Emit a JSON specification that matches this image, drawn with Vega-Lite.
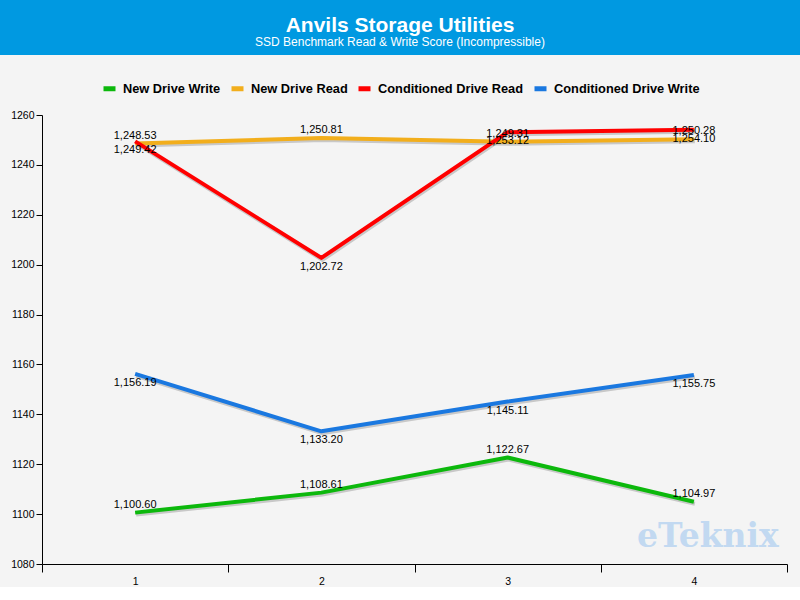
{
  "$schema": "https://vega.github.io/schema/vega-lite/v6.json",
  "background": "#f4f4f4",
  "padding": 0,
  "spacing": 55,
  "config": {
    "view": {"stroke": null},
    "font": "Liberation Sans",
    "axis": {"domainColor": "#000000", "tickColor": "#000000", "labelColor": "#000000", "grid": false, "title": null, "labelFont": "Liberation Sans", "labelFontSize": 10.5}
  },
  "datasets": {
    "scores": [
      {"series": "New Drive Write", "drive": "1", "value": 1100.60},
      {"series": "New Drive Write", "drive": "2", "value": 1108.61},
      {"series": "New Drive Write", "drive": "3", "value": 1122.67},
      {"series": "New Drive Write", "drive": "4", "value": 1104.97},
      {"series": "New Drive Read", "drive": "1", "value": 1248.53},
      {"series": "New Drive Read", "drive": "2", "value": 1250.81},
      {"series": "New Drive Read", "drive": "3", "value": 1249.31},
      {"series": "New Drive Read", "drive": "4", "value": 1250.28},
      {"series": "Conditioned Drive Read", "drive": "1", "value": 1249.42},
      {"series": "Conditioned Drive Read", "drive": "2", "value": 1202.72},
      {"series": "Conditioned Drive Read", "drive": "3", "value": 1253.12},
      {"series": "Conditioned Drive Read", "drive": "4", "value": 1254.10},
      {"series": "Conditioned Drive Write", "drive": "1", "value": 1156.19},
      {"series": "Conditioned Drive Write", "drive": "2", "value": 1133.20},
      {"series": "Conditioned Drive Write", "drive": "3", "value": 1145.11},
      {"series": "Conditioned Drive Write", "drive": "4", "value": 1155.75}
    ]
  },
  "vconcat": [
    {
      "width": 800,
      "height": 55,
      "view": {"fill": "#0099e1", "stroke": null},
      "layer": [
        {
          "data": {"values": [{"t": "Anvils Storage Utilities"}]},
          "mark": {"type": "text", "font": "Liberation Sans", "fontWeight": "bold", "fontSize": 21, "color": "#ffffff", "baseline": "middle", "align": "center", "dy": -1.5},
          "encoding": {"text": {"field": "t"}}
        },
        {
          "data": {"values": [{"t": "SSD Benchmark Read & Write Score (Incompressible)"}]},
          "mark": {"type": "text", "font": "Liberation Sans", "fontSize": 12, "color": "#ffffff", "baseline": "middle", "align": "center", "dy": 14},
          "encoding": {"text": {"field": "t"}}
        }
      ]
    },
    {
      "width": 800,
      "height": 449,
      "data": {"name": "scores"},
      "encoding": {
        "x": {"field": "drive", "type": "nominal", "sort": ["1", "2", "3", "4"],
              "scale": {"type": "band", "range": [42, 787], "paddingInner": 0, "paddingOuter": 0},
              "axis": {"labelAngle": 0, "tickBand": "extent", "tickSize": 8, "labelPadding": 4, "domainColor": "#000000"}},
        "y": {"field": "value", "type": "quantitative",
              "scale": {"domain": [1080, 1260], "zero": false, "nice": false},
              "axis": {"offset": -42, "format": "d", "values": [1080, 1100, 1120, 1140, 1160, 1180, 1200, 1220, 1240, 1260], "tickSize": 6, "labelPadding": 2}}
      },
      "layer": [
        {
          "mark": {"type": "line", "strokeWidth": 4, "color": "#000000", "opacity": 0.18, "xOffset": 1, "yOffset": 2},
          "encoding": {"detail": {"field": "series"}}
        },
        {
          "mark": {"type": "line", "strokeWidth": 4, "strokeJoin": "round"},
          "encoding": {
            "color": {"field": "series", "type": "nominal",
              "scale": {"domain": ["New Drive Write", "New Drive Read", "Conditioned Drive Read", "Conditioned Drive Write"],
                        "range": ["#0cb80c", "#f2ae1c", "#ff0000", "#1a78e0"]},
              "legend": {"title": null, "orient": "none", "direction": "horizontal", "legendX": 101, "legendY": 80,
                         "symbolType": "stroke", "symbolStrokeWidth": 5, "symbolSize": 144,
                         "labelFont": "Liberation Sans", "labelFontWeight": "bold", "labelFontSize": 12.8, "labelColor": "#000000",
                         "labelOffset": 5, "columnPadding": 0}
            }
          }
        },
        {
          "transform": [{"filter": {"field": "series", "oneOf": ["New Drive Write", "New Drive Read"]}}],
          "mark": {"type": "text", "font": "Liberation Sans", "fontSize": 11, "color": "#000000", "baseline": "middle", "dy": -8},
          "encoding": {"text": {"field": "value", "type": "quantitative", "format": ",.2f"}}
        },
        {
          "transform": [{"filter": {"field": "series", "oneOf": ["Conditioned Drive Read", "Conditioned Drive Write"]}}],
          "mark": {"type": "text", "font": "Liberation Sans", "fontSize": 11, "color": "#000000", "baseline": "middle", "dy": 9},
          "encoding": {"text": {"field": "value", "type": "quantitative", "format": ",.2f"}}
        },
        {
          "data": {"values": [{"mark": "eTeknix", "drive": "4", "value": 1091}]},
          "mark": {"type": "text", "font": "DejaVu Serif", "fontWeight": "bold", "fontSize": 33, "color": "#c2d9f1", "baseline": "middle", "dx": 14},
          "encoding": {"text": {"field": "mark"}}
        }
      ]
    }
  ]
}
